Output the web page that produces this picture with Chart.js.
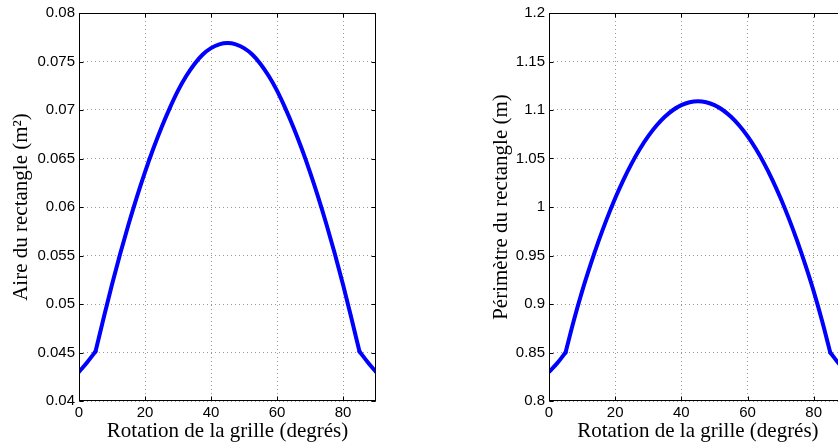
<!DOCTYPE html>
<html><head><meta charset="utf-8">
<script src="https://cdn.jsdelivr.net/npm/chart.js@4/dist/chart.umd.min.js"></script>
<style>
html,body{margin:0;padding:0;background:#fff;overflow:hidden;width:838px;height:447px;}
#wrap{position:relative;width:838px;height:447px;overflow:hidden;background:#fff;}
canvas{position:absolute;top:0;}
</style></head><body>
<div id="wrap">
<canvas id="c1" width="420" height="447" style="left:0px"></canvas>
<canvas id="c2" width="460" height="447" style="left:420px"></canvas>
</div>
<script>
// ---- data ----
const angles = [0,2.5,5,7.5,10,12.5,15,17.5,20,22.5,25,27.5,30,32.5,35,37.5,40,42.5,45,
  47.5,50,52.5,55,57.5,60,62.5,65,67.5,70,72.5,75,77.5,80,82.5,85,87.5,90];
const areaValues = [0.0430,0.0440,0.0451,0.0486,0.0520,0.0552,0.0582,0.0610,0.0636,0.0660,0.0682,0.0702,0.0720,0.07350,0.07475,0.07572,0.07638,0.07677,0.0769,
  0.07677,0.07638,0.07572,0.07475,0.07350,0.0720,0.0702,0.0682,0.0660,0.0636,0.0610,0.0582,0.0552,0.0520,0.0486,0.0451,0.0440,0.0430];
const perimeterValues = [0.830,0.839,0.850,0.883,0.913,0.940,0.965,0.988,1.009,1.028,1.045,1.060,1.073,1.084,1.093,1.100,1.105,1.108,1.109,
  1.108,1.105,1.100,1.093,1.084,1.073,1.060,1.045,1.028,1.009,0.988,0.965,0.940,0.913,0.883,0.850,0.839,0.830];
// the curve has sharp corners at these angles (piece boundaries)
const cornerAngles = [5,85];
const xTickValues = [0,20,40,60,80];
const xTickLabels = ['0','20','40','60','80'];
const areaTickValues = [0.04,0.045,0.05,0.055,0.06,0.065,0.07,0.075,0.08];
const areaTickLabels = ['0.04','0.045','0.05','0.055','0.06','0.065','0.07','0.075','0.08'];
const perimTickValues = [0.8,0.85,0.9,0.95,1.0,1.05,1.1,1.15,1.2];
const perimTickLabels = ['0.8','0.85','0.9','0.95','1','1.05','1.1','1.15','1.2'];
const xTitle = 'Rotation de la grille (degrés)';
const areaTitle = 'Aire du rectangle (m²)';
const perimTitle = 'Périmètre du rectangle (m)';

// ---- styling ----
const tickFont = {family:'"Liberation Sans", Arial, sans-serif', size:15};
const titleFont = {family:'"Liberation Serif", "Times New Roman", serif', size:21};

const framePlugin = {
  id:'frame',
  afterDatasetsDraw(chart){
    const {ctx, chartArea:a, scales:{x,y}} = chart;
    const L = Math.round(a.left)+0.5, R = Math.round(a.right)-0.5;
    const T = Math.round(a.top)+0.5, B = Math.round(a.bottom)-0.5;
    ctx.save();
    ctx.strokeStyle = '#000'; ctx.lineWidth = 1;
    ctx.beginPath();
    const len = 4;
    x.ticks.forEach(t=>{
      const px = Math.round(x.getPixelForValue(t.value))+0.5;
      ctx.moveTo(px,B); ctx.lineTo(px,B-len);
      ctx.moveTo(px,T); ctx.lineTo(px,T+len);
    });
    y.ticks.forEach(t=>{
      const py = Math.round(y.getPixelForValue(t.value))+0.5;
      ctx.moveTo(L,py); ctx.lineTo(L+len,py);
      ctx.moveTo(R,py); ctx.lineTo(R-len,py);
    });
    ctx.stroke();
    ctx.strokeRect(L,T,R-L,B-T);
    ctx.restore();
  }
};

function pieces(values){
  // split the series at the corner angles; each piece is drawn smooth
  const cuts = [0, ...cornerAngles.map(c=>angles.indexOf(c)), angles.length-1];
  const out = [];
  for(let k=0;k<cuts.length-1;k++){
    const pts = [];
    for(let i=cuts[k]; i<=cuts[k+1]; i++) pts.push({x:angles[i], y:values[i]});
    out.push({
      data:pts, borderColor:'#0000ff', borderWidth:4, pointRadius:0,
      cubicInterpolationMode:'monotone', fill:false,
      borderJoinStyle:'round', borderCapStyle:'round'
    });
  }
  return out;
}

function makeChart(id, values, yMin, yMax, yTicks, yLabels, yTitle, padLeft, yWidth, padRight){
  return new Chart(document.getElementById(id), {
    type:'line',
    data:{datasets:pieces(values)},
    options:{
      responsive:false, animation:false, devicePixelRatio:1,
      layout:{padding:{left:padLeft, right:padRight, top:11.6, bottom:0}},
      plugins:{legend:{display:false}, tooltip:{enabled:false}},
      scales:{
        x:{
          type:'linear', min:0, max:90,
          afterBuildTicks:s=>{ s.ticks = xTickValues.map(v=>({value:v})); },
          afterFit:s=>{ s.height = 46; },
          ticks:{font:tickFont, color:'#000', padding:3, maxRotation:0, autoSkip:false,
                 callback:(v,i)=>xTickLabels[i]},
          grid:{color:'#9a9a9a', lineWidth:1, drawTicks:false},
          border:{display:false, dash:[1,3]},
          title:{display:true, text:xTitle, font:titleFont, color:'#000', padding:{top:0,bottom:3}}
        },
        y:{
          type:'linear', min:yMin, max:yMax,
          afterBuildTicks:s=>{ s.ticks = yTicks.map(v=>({value:v})); },
          afterFit:s=>{ s.width = yWidth; },
          ticks:{font:tickFont, color:'#000', padding:4, autoSkip:false,
                 callback:(v,i)=>yLabels[i]},
          grid:{color:'#9a9a9a', lineWidth:1, drawTicks:false},
          border:{display:false, dash:[1,3]},
          title:{display:true, text:yTitle, font:titleFont, color:'#000', padding:{top:9,bottom:0}}
        }
      }
    },
    plugins:[framePlugin]
  });
}

makeChart('c1', areaValues, 0.04, 0.08, areaTickValues, areaTickLabels, areaTitle, 0, 79, 44);
makeChart('c2', perimeterValues, 0.8, 1.2, perimTickValues, perimTickLabels, perimTitle, 60, 69, 33.2);
</script>
</body></html>
